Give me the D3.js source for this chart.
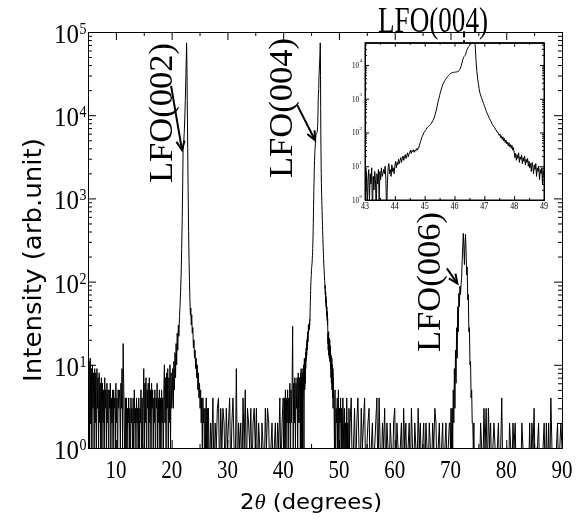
<!DOCTYPE html>
<html>
<head>
<meta charset="utf-8">
<script src="https://cdn.jsdelivr.net/npm/d3@7/dist/d3.min.js"></script>
<style>
  body { margin: 0; background: #fff; }
  svg { will-change: transform; }
  text { fill: #000; }
</style>
</head>
<body>
<svg id="chart" width="586" height="520"></svg>
<script>
// ---- data (counts) ----
// background 5.0 .. 20.0, step 0.1
const bgA = [14,3,11,1,12,2,9,0,10,3,8,1,9,
  2,8,0,9,3,7,1,8,2,6,0,7,
  1,6,2,5,0,7,3,5,1,6,2,5,
  0,5,3,6,1,4,2,5,0,5,3,4,1,6,2,4,0,5,3,5,
  4,1,6,3,9,1,18,6,2,0,4,1,
  4,0,3,2,4,1,3,0,4,2,3,1,4,0,5,2,3,1,4,2,3,0,4,1,3,2,5,0,4,1,
  3,9,1,6,2,7,0,5,3,6,1,7,2,5,0,6,3,5,
  1,4,2,5,0,4,3,6,1,4,2,5,0,4,1,5,2,4,0,5,
  10,2,7,1,8,3,9,0,7,2,10,1,8,3];

// LFO(002) region, [2theta, counts]
const peak002 = [[20.1,4],[20.2,9],[20.3,3],[20.4,11],[20.5,5],[20.6,14],[20.7,7],[20.8,18],
  [20.9,10],[21.0,24],[21.1,15],[21.2,30],[21.3,22],[21.4,38],[21.5,50],[21.6,75],[21.7,120],
  [21.8,250],[21.9,600],[22.0,1800],[22.05,3800],[22.15,4500],[22.25,6000],[22.35,9000],
  [22.45,15000],[22.55,28000],[22.63,50000],[22.68,74000],[22.74,40000],[22.8,15000],
  [22.88,4000],[22.96,1200],[23.04,400],[23.12,180],[23.2,100],[23.28,60],[23.36,40],
  [23.44,48],[23.52,30],[23.6,40],[23.7,24],[23.8,28],[23.9,16],[24.0,20],[24.1,12],
  [24.2,15],[24.3,9],[24.4,12],[24.5,7],[24.6,10],[24.7,5],[24.8,8],[24.9,4],[25.0,6],
  [25.1,3],[25.2,5],[25.3,2],[25.4,4],[25.5,1],[25.6,4],[25.7,2],[25.8,3],[25.9,0],
  [26.0,3],[26.1,1],[26.2,4],[26.3,0],[26.4,3],[26.5,1]];

// background 26.6 .. 39.8, step 0.2
const bgB = [3,0,2,1,4,0,2,1,3,4,
  0,3,1,3,2,0,3,1,2,4,
  0,2,4,1,0,9,0,2,1,2,
  0,4,1,5,0,3,2,1,3,0,
  2,3,1,3,0,2,1,0,2,1,
  0,3,1,3,2,0,1,2,0,1,
  2,0,2,1,4,0,2];

// 40.0 .. 42.9, step 0.1
const bgB2 = [4,0,4,1,5,0,4,2,5,1,4,2,6,0,5,2,6,29,1,6,2,7,1,6,3,7,1,8,2,7];

// LFO(004) region 43.000 .. 49.000, step 0.025 (also drawn in the inset)
const inset004 = [5,2,7,0,4,8,1,6,3,9,0,5,2,7,4,0,6,3,8,1,
  7,4,9,5,6,8,6,10,4,0,3,9,12,6,8,5,11,7,9,6,
  10,14,9,13,11,16,12,15,18,13,17,20,15,19,22,17,21,25,19,23,
  26,30,24,29,27,31,26,30,28,33,30,35,34,42,50,58,70,78,88,100,
  105,115,122,135,145,152,158,165,175,190,205,225,250,290,340,410,500,640,820,1000,
  1250,1500,1800,2150,2500,2850,3150,3450,3750,4000,4300,4600,4900,5200,5450,5650,5800,5900,6000,6050,
  6100,6150,6200,6250,6350,6500,6800,7300,8200,9500,11500,14000,16500,18000,19000,21000,25000,29000,32000,35000,
  38000,41000,45000,50000,56000,63000,74000,60000,30000,12000,6500,4000,2800,2000,1500,1300,1100,950,820,720,
  620,540,470,410,360,320,285,255,230,210,190,172,158,145,138,120,118,104,102,90,
  82,90,70,80,62,74,56,66,50,60,46,52,40,50,38,44,34,42,30,36,
  26,18,24,15,22,17,25,13,19,16,21,12,18,14,20,11,16,13,17,10,
  14,9,12,7,13,10,6,11,8,12,5,9,7,10,4,8,6,9,3,7,5];

// 49.1 .. 51.9, step 0.1
const bgC = [4,1,5,0,3,2,4,0,5,1,3,2,4,0,3,1,4,2,0,3,1,2,0,4,1,2,0,3,1];

// 52.0 .. 69.8, step 0.2
const bgD = [2,4,0,1,3,0,2,4,1,0,
  3,1,2,4,0,1,2,3,0,1,
  2,0,1,2,4,0,4,1,0,2,
  1,3,0,2,1,0,2,1,0,2,
  3,0,2,1,0,1,2,0,3,1,
  2,0,1,2,0,3,1,0,2,1,
  0,3,1,2,0,1,2,0,2,1,
  0,2,1,0,2,1,3,2,0,1,
  2,0,1,2,0,1,2,0,1,2];

// LFO(006) region
const peak006 = [[69.9,2],[70.0,1],[70.1,3],[70.2,1],[70.3,3],[70.4,1],[70.5,5],[70.6,2],
  [70.7,9],[70.8,3],[70.9,15],[71.0,6],[71.1,28],[71.2,12],[71.3,50],[71.4,25],[71.5,72],
  [71.6,50],[71.7,88],[71.8,70],[71.9,92],[72.0,110],[72.1,180],[72.2,260],[72.3,380],
  [72.4,260],[72.5,160],[72.6,280],[72.7,370],[72.8,230],[72.9,120],[73.0,150],[73.1,60],
  [73.2,70],[73.3,25],[73.4,28],[73.5,10],[73.6,11],[73.7,4],[73.8,5],[73.9,2],[74.0,2],
  [74.1,1],[74.2,2],[74.3,0],[74.4,1],[74.5,0]];

// 74.6 .. 90.0, step 0.2
const bgE = [1,0,1,0,2,1,0,3,1,3,
  0,3,1,2,0,1,2,1,0,1,
  2,0,1,4,0,1,0,1,1,0,
  2,1,0,2,1,2,0,1,0,1,
  0,2,1,0,1,0,1,0,2,0,
  2,1,3,0,1,1,2,0,1,0,
  1,2,0,2,0,2,0,4,1,0,
  1,0,1,2,0,1,2,1];

const xTicks = [10,20,30,40,50,60,70,80,90];
const yDecades = [0,1,2,3,4,5];
const insetXTicks = [43,44,45,46,47,48,49];
const insetDecades = [0,1,2,3,4];
const peakLabels = ["LFO(002)", "LFO(004)", "LFO(006)"];

// arrows in data units: [x1, y1, x2, y2]
const mainArrows = [[19.9,22500,21.86,3800],[42.5,13300,45.72,5000],[69.35,144,71.24,95]];
const insetArrow = [45.45,4.17e4,45.92,8100];
const insetDashed = [[46.32,1.0e5,46.32,2.0e4],[45.15,1200,45.15,190],[44.47,235,44.47,40]];

// ---- drawing ----
const svg = d3.select("#chart");
const serif = "'Liberation Serif', 'Times New Roman', serif";
const sans = "'DejaVu Sans', sans-serif";

const x = d3.scaleLinear().domain([5, 90]).range([88, 562]);
const y = d3.scaleLog().domain([1, 1e5]).range([448, 32]);
const floor = 0.4;

function series(start, step, vals) {
  return vals.map((v, i) => [start + i * step, v]);
}

const mainData = [].concat(
  series(5, 0.1, bgA), peak002, series(26.6, 0.2, bgB), series(40, 0.1, bgB2),
  series(43, 0.025, inset004), series(49.1, 0.1, bgC), series(52, 0.2, bgD),
  peak006, series(74.6, 0.2, bgE));

const defs = svg.append("defs");
defs.append("clipPath").attr("id", "clipMain")
  .append("rect").attr("x", 88).attr("y", 32).attr("width", 474).attr("height", 416);

const line = d3.line()
  .x(d => x(d[0]))
  .y(d => y(Math.max(d[1], floor)));

svg.append("path")
  .datum(mainData)
  .attr("clip-path", "url(#clipMain)")
  .attr("fill", "none")
  .attr("stroke", "#000")
  .attr("stroke-width", 1)
  .attr("d", line);

// axes, ticks pointing inward
const decVals = yDecades.map(k => Math.pow(10, k));
const minorY = y.ticks().filter(v => !decVals.includes(v));
const minorX = d3.range(5, 91, 5).filter(v => v % 10 !== 0);

function axis(gen, tx, ty, vals, size) {
  const g = svg.append("g").attr("transform", `translate(${tx},${ty})`)
    .call(gen.tickValues(vals).tickSizeInner(size).tickSizeOuter(0).tickFormat(""));
  g.selectAll("line").attr("stroke", "#000");
  g.select(".domain").attr("stroke", "#000");
  return g;
}
axis(d3.axisLeft(y), 88, 0, decVals, -8);
axis(d3.axisLeft(y), 88, 0, minorY, -4);
axis(d3.axisRight(y), 562, 0, decVals, -8);
axis(d3.axisRight(y), 562, 0, minorY, -4);
axis(d3.axisBottom(x), 0, 448, xTicks, -8);
axis(d3.axisBottom(x), 0, 448, minorX, -4);
axis(d3.axisTop(x), 0, 32, xTicks, -8);
axis(d3.axisTop(x), 0, 32, minorX, -4);

// tick labels
svg.append("g").selectAll("text").data(xTicks).join("text")
  .attr("x", d => x(d)).attr("y", 478)
  .attr("text-anchor", "middle")
  .attr("font-family", serif).attr("font-size", 25)
  .attr("textLength", 21).attr("lengthAdjust", "spacingAndGlyphs")
  .text(d => d);

const yl = svg.append("g");
yDecades.forEach(k => {
  const py = y(Math.pow(10, k));
  yl.append("text").attr("x", 79).attr("y", py + 11)
    .attr("text-anchor", "end").attr("font-family", serif).attr("font-size", 27)
    .attr("textLength", 25).attr("lengthAdjust", "spacingAndGlyphs").text("10");
  yl.append("text").attr("x", 79.5).attr("y", py + 2)
    .attr("font-family", serif).attr("font-size", 17)
    .attr("textLength", 7).attr("lengthAdjust", "spacingAndGlyphs").text(k);
});

// axis titles
svg.append("text")
  .attr("transform", "translate(41,260) rotate(-90)")
  .attr("text-anchor", "middle")
  .attr("font-family", sans).attr("font-size", 24)
  .attr("textLength", 244).attr("lengthAdjust", "spacingAndGlyphs")
  .text("Intensity (arb.unit)");

const xt = svg.append("text")
  .attr("x", 311).attr("y", 509)
  .attr("text-anchor", "middle")
  .attr("font-family", sans).attr("font-size", 22)
  .attr("textLength", 142).attr("lengthAdjust", "spacingAndGlyphs");
xt.append("tspan").text("2");
xt.append("tspan").attr("font-family", serif).attr("font-style", "italic").text("θ");
xt.append("tspan").text(" (degrees)");

// peak labels (rotated)
const labelPos = [[172, 183], [292, 178], [440, 352]];
peakLabels.forEach((t, i) => {
  svg.append("text")
    .attr("transform", `translate(${labelPos[i][0]},${labelPos[i][1]}) rotate(-90)`)
    .attr("font-family", serif).attr("font-size", 33)
    .attr("textLength", 140).attr("lengthAdjust", "spacingAndGlyphs")
    .text(t);
});

function arrow(g, x1, y1, x2, y2, dashed, w, head) {
  g.append("line")
    .attr("x1", x1).attr("y1", y1).attr("x2", x2).attr("y2", y2)
    .attr("stroke", "#000").attr("stroke-width", w)
    .attr("stroke-dasharray", dashed ? "6,3" : null);
  const a = Math.atan2(y2 - y1, x2 - x1);
  const p = [a + Math.PI - 0.42, a + Math.PI + 0.42].map(t => [x2 + head * Math.cos(t), y2 + head * Math.sin(t)]);
  g.append("path")
    .attr("d", `M${p[0]}L${x2},${y2}L${p[1]}`)
    .attr("fill", "none").attr("stroke", "#000").attr("stroke-width", w);
}

const ann = svg.append("g");
mainArrows.forEach(d => arrow(ann, x(d[0]), y(d[1]), x(d[2]), y(d[3]), false, 2, 10));

// ---- inset ----
const xi = d3.scaleLinear().domain([43, 49]).range([365, 544]);
const yi = d3.scaleLog().domain([1, Math.pow(10, 4.66)]).range([200, 42.7]);

svg.append("rect").attr("x", 365).attr("y", 42.7).attr("width", 179).attr("height", 157.3)
  .attr("fill", "#fff");

defs.append("clipPath").attr("id", "clipInset")
  .append("rect").attr("x", 365).attr("y", 42.7).attr("width", 179).attr("height", 157.3);

const lineI = d3.line()
  .x(d => xi(d[0]))
  .y(d => yi(Math.max(d[1], floor)));

svg.append("path")
  .datum(series(43, 0.025, inset004))
  .attr("clip-path", "url(#clipInset)")
  .attr("fill", "none").attr("stroke", "#000").attr("stroke-width", 1)
  .attr("d", lineI);

const iDec = insetDecades.map(k => Math.pow(10, k));
const iMinor = yi.ticks().filter(v => !iDec.includes(v));
const iMinorX = d3.range(43.5, 49, 1);
axis(d3.axisLeft(yi), 365, 0, iDec, -4);
axis(d3.axisLeft(yi), 365, 0, iMinor, -2);
axis(d3.axisRight(yi), 544, 0, iDec, -4);
axis(d3.axisRight(yi), 544, 0, iMinor, -2);
axis(d3.axisBottom(xi), 0, 200, insetXTicks, -4);
axis(d3.axisBottom(xi), 0, 200, iMinorX, -2);
axis(d3.axisTop(xi), 0, 42.7, insetXTicks, -4);
axis(d3.axisTop(xi), 0, 42.7, iMinorX, -2);
svg.append("rect").attr("x", 365).attr("y", 42.7).attr("width", 179).attr("height", 157.3)
  .attr("fill", "none").attr("stroke", "#000").attr("stroke-width", 1);

svg.append("g").selectAll("text").data(insetXTicks).join("text")
  .attr("x", d => xi(d)).attr("y", 209)
  .attr("text-anchor", "middle")
  .attr("font-family", serif).attr("font-size", 10)
  .attr("textLength", 8).attr("lengthAdjust", "spacingAndGlyphs")
  .text(d => d);

insetDecades.forEach(k => {
  const py = yi(Math.pow(10, k));
  svg.append("text").attr("x", 359).attr("y", py + 3)
    .attr("text-anchor", "end").attr("font-family", serif).attr("font-size", 9)
    .attr("textLength", 7).attr("lengthAdjust", "spacingAndGlyphs").text("10");
  svg.append("text").attr("x", 359.5).attr("y", py - 2.5)
    .attr("font-family", serif).attr("font-size", 5).text(k);
});

svg.append("text")
  .attr("x", 378).attr("y", 32)
  .attr("font-family", serif).attr("font-size", 36)
  .attr("textLength", 110).attr("lengthAdjust", "spacingAndGlyphs")
  .text("LFO(004)");

arrow(ann, xi(insetArrow[0]), yi(insetArrow[1]), xi(insetArrow[2]), yi(insetArrow[3]), false, 2, 9);
insetDashed.forEach(d => arrow(ann, xi(d[0]), yi(d[1]), xi(d[2]), yi(d[3]), true, 2, 8));
</script>
</body>
</html>
